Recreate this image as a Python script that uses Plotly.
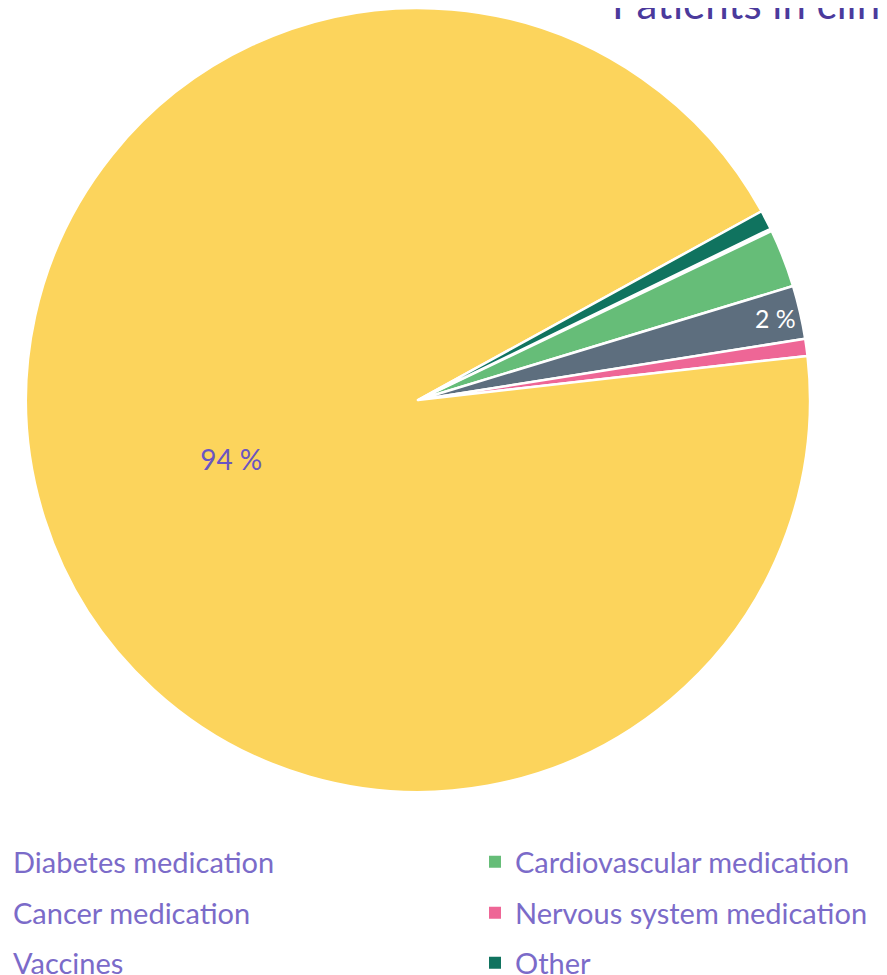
import plotly.graph_objects as go

# share of patients in clinical trials, by therapy area (%)
labels = ["Diabetes medication", "Cardiovascular medication", "Cancer medication",
          "Nervous system medication", "Vaccines", "Other"]
values = [0.1, 2.4, 2.2, 0.7, 93.8, 0.8]
colors = ["#4B3A9C", "#66BD78", "#5D6E7E", "#EE6696", "#FCD45C", "#10735F"]
shown_labels = ["", "", "%{value:.0f} %", "", "%{value:.0f} %", ""]
label_colors = ["#FFFFFF", "#FFFFFF", "#FFFFFF", "#FFFFFF", "#6A55C2", "#FFFFFF"]
# legend layout: two columns, three rows
legend_col = [0, 1, 0, 1, 0, 1]
legend_row = [0, 0, 1, 1, 2, 2]

W, H = 887, 975
OFF = 8  # page body margin shifts the figure by 8px
cx, cy, r = 418 - OFF, 392, 392
FONT = "Lato"
TEXT = "#7B6BC9"

fig = go.Figure()
fig.add_trace(go.Pie(
    labels=labels,
    values=values,
    sort=False,
    direction="clockwise",
    rotation=64.1,
    marker=dict(colors=colors, line=dict(color="white", width=2.5)),
    texttemplate=shown_labels,
    textposition="inside",
    insidetextorientation="horizontal",
    textfont=dict(family=FONT, size=28, color=label_colors),
    domain=dict(x=[(cx - r) / W, (cx + r) / W],
                y=[1 - (cy + r) / H, min(1, 1 - (cy - r) / H)]),
    showlegend=False,
    hoverinfo="label+percent",
))

# one legend per entry so the grid can be spaced like the original
col_x = [-27 - OFF, 475 - OFF]
row_y = [862 - OFF, 913 - OFF, 963 - OFF]
layout_legends = {}
for i, name in enumerate(labels):
    lname = "legend" if i == 0 else f"legend{i + 1}"
    fig.add_trace(go.Scatter(
        x=[None], y=[None], mode="markers", name=name, legend=lname,
        marker=dict(symbol="square", size=12, color=colors[i]),
    ))
    layout_legends[lname] = dict(
        x=col_x[legend_col[i]] / W, xanchor="left",
        y=1 - row_y[legend_row[i]] / H, yanchor="middle",
        font=dict(family=FONT, size=29, color=TEXT),
        bgcolor="rgba(0,0,0,0)", borderwidth=0,
    )

fig.update_layout(
    width=W, height=H,
    margin=dict(l=0, r=0, t=0, b=0, autoexpand=False),
    paper_bgcolor="white", plot_bgcolor="white",
    xaxis=dict(visible=False), yaxis=dict(visible=False),
    annotations=[dict(
        text="Patients in clinical trials", x=(610 - OFF) / W, xref="paper", xanchor="left",
        y=1 - 22 / H, yref="paper", yanchor="bottom", showarrow=False,
        font=dict(family=FONT, size=42, color="#4B3A9C"),
    )],
    **layout_legends,
)

fig.write_html("out.html")
